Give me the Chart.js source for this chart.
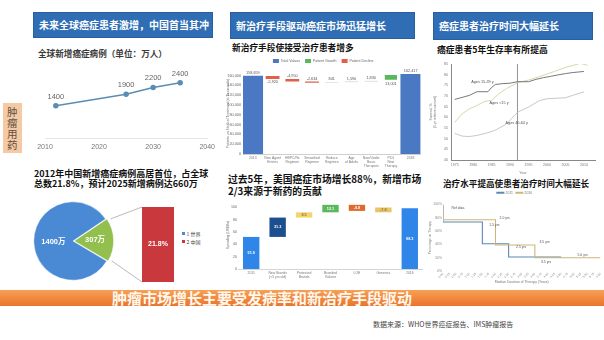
<!DOCTYPE html>
<html><head><meta charset="utf-8">
<script src="https://cdn.jsdelivr.net/npm/chart.js@4.4.1/dist/chart.umd.min.js"></script>
<style>
html,body{margin:0;padding:0;}
body{width:604px;height:340px;background:#fff;position:relative;overflow:hidden;font-family:'Noto Sans CJK SC',sans-serif;}
.t{position:absolute;white-space:nowrap;line-height:1;}
.hdr{position:absolute;background:#2f6eb5;border:1px solid #2a5f9e;box-sizing:border-box;color:#fff;font-weight:bold;font-size:10px;line-height:1;display:flex;align-items:center;padding-left:5px;white-space:nowrap;}
canvas{position:absolute;}
</style></head><body>

<div class="t" style="left:3px;top:103px;width:19px;height:50px;background:#f6c9a2;"></div>
<div class="t" style="left:7px;top:106px;font-size:10.5px;line-height:11px;color:#5e5147;white-space:normal;width:11px;">肿瘤用药</div>

<div class="hdr" style="left:33px;top:12px;width:180px;height:26px;">未来全球癌症患者激增，中国首当其冲</div>
<div class="hdr" style="left:230px;top:12px;width:185px;height:27px;">新治疗手段驱动癌症市场迅猛增长</div>
<div class="hdr" style="left:433px;top:12px;width:160px;height:28px;">癌症患者治疗时间大幅延长</div>

<div class="t" style="left:38px;top:48.5px;font-size:8.6px;font-weight:bold;color:#3a3a3a;">全球新增癌症病例（单位：万人）</div>
<div class="t" style="left:232px;top:43.5px;font-size:8.7px;font-weight:bold;color:#111;">新治疗手段使接受治疗患者增多</div>
<div class="t" style="left:437px;top:45.5px;font-size:8.8px;font-weight:bold;color:#111;">癌症患者5年生存率有所提高</div>

<div class="t" style="left:34px;top:168.5px;font-size:9px;font-weight:bold;color:#111;">2012年中国新增癌症病例高居首位，占全球</div>
<div class="t" style="left:34px;top:178.5px;font-size:9px;font-weight:bold;color:#111;">总数21.8%，预计2025新增病例达660万</div>
<div class="t" style="left:228px;top:175px;font-size:9.8px;font-weight:bold;color:#111;">过去5年，美国癌症市场增长88%，新增市场</div>
<div class="t" style="left:228px;top:187px;font-size:9.8px;font-weight:bold;color:#111;">2/3来源于新药的贡献</div>
<div class="t" style="left:443px;top:178.5px;font-size:8.6px;font-weight:bold;color:#111;">治疗水平提高使患者治疗时间大幅延长</div>

<div class="t" style="left:182px;top:232px;width:3px;height:3px;background:#4a89d4;"></div>
<div class="t" style="left:186.5px;top:231px;font-size:5px;color:#444;">1 世界</div>
<div class="t" style="left:182px;top:240px;width:3px;height:3px;background:#c9383c;"></div>
<div class="t" style="left:186.5px;top:239px;font-size:5px;color:#444;">2 中国</div>

<div class="t" style="left:0;top:290px;width:604px;height:16px;background:linear-gradient(to bottom,#f7a055,#ea742c);"></div>
<div class="t" style="left:0;top:290px;width:524px;height:16px;font-size:15px;font-weight:bold;color:#fff8ee;text-align:center;line-height:16px;">肿瘤市场增长主要受发病率和新治疗手段驱动</div>
<div class="t" style="left:373px;top:321px;font-size:7px;color:#444;">数据来源：WHO世界癌症报告、IMS肿瘤报告</div>

<canvas id="c1" width="190" height="95" style="left:30px;top:60px"></canvas>
<canvas id="cPie" width="84" height="84" style="left:31px;top:199px"></canvas>
<canvas id="cBar" width="32" height="75" style="left:142px;top:207px"></canvas>
<canvas id="cW1" width="195" height="115" style="left:226px;top:54px"></canvas>
<canvas id="cW2" width="197" height="88" style="left:226px;top:195px"></canvas>
<canvas id="cS" width="176" height="115" style="left:428px;top:60px"></canvas>
<canvas id="cK" width="176" height="96" style="left:428px;top:188px"></canvas>
<canvas id="ov" width="604" height="340" style="left:0;top:0;pointer-events:none"></canvas>

<script>
// ---------- DATA ----------
// Panel 1: global new cancer cases (万人)
const caseYears = [2012, 2025, 2030, 2035];
const caseValues = [1400, 1900, 2200, 2400];
const caseTicks = [2010, 2020, 2030, 2040];

// Pie: 2012 new cases (万)
const pieLabels = ['2中国', '1世界'];
const pieValues = [307, 1400];
const pieText = ['307万', '1400万'];
const chinaShare = [21.8];

// Waterfall 1: patients on treatment
const wf1Cats = [['2013'], ['New Agent', 'Entries'], ['HBPC/Rx', 'Regimen'], ['Smoothed', 'Regimen'], ['Reduce', 'Regimen'], ['Age', 'of Adults'], ['New/Under', 'Basic', 'Therapies'], ['PD1', 'New', 'Therapy'], ['2018']];
const wf1Start = 158659;
const wf1Deltas = [-5920, -4950, -2634, 841, 1590, 1830, 13001];
const wf1Ticks = [0, 20000, 40000, 60000, 80000, 100000, 120000, 140000, 160000];

// Waterfall 2: US oncology spending (US$Bn)
const wf2Cats = [['2011'], ['New Brands', '(<5 yrs old)'], ['Protected', 'Brands'], ['Branded', 'Volume'], ['LOE'], ['Generics'], ['2016']];
const wf2Low = [0, 51.9, 83.2, 91.7, 94.0, 91.7, 0];
const wf2High = [51.9, 83.2, 91.7, 103.8, 103.8, 99.5, 98.3];
const wf2Text = ['51.9', '31.3', '8.5', '12.1', '-9.8', '-7.8', '98.3'];

// Survival chart
const survYears15_39 = [1975, 1979, 1981, 1984, 1985, 1986, 1988, 1990, 1992, 1995, 1997, 1999, 2001, 2003, 2005, 2007, 2010];
const surv15_39 = [68.4, 70.3, 72.0, 72.0, 74.0, 75.4, 75.8, 76.0, 76.7, 76.7, 77.8, 78.6, 79.2, 79.9, 80.5, 81.0, 81.5];
const survYearsU15 = [1975, 1977, 1979, 1981, 1983, 1985, 1987, 1989, 1992, 1995, 1998, 2002, 2005, 2009, 2011];
const survU15 = [57.6, 61.6, 64.0, 65.5, 67.4, 67.9, 71.1, 73.5, 76.2, 77.5, 79.1, 81.5, 83.4, 85.3, 84.4];
const survYears40_64 = [1975, 1977, 1979, 1981, 1984, 1986, 1989, 1992, 1995, 1998, 2000, 2003, 2005, 2007, 2010];
const surv40_64 = [52.5, 51.2, 51.0, 51.5, 52.8, 54.0, 56.8, 62.4, 64.8, 67.9, 68.7, 69.0, 69.2, 70.3, 71.9];
const survMarkYear = 1992;
const survTicksX = [1975, 1980, 1985, 1990, 1995, 2000, 2005, 2010];

// Step chart: percentage remaining on therapy vs years
const stepXBlue = [0, 1.5, 2.5, 3.5, 4.5];
const stepYBlue = [100, 73.6, 41, 21, 21];
const stepXTan = [0, 2.0, 3.5, 5.0, 6.0];
const stepYTan = [100, 77, 39, 20, 20];
const stepNotes = [[0.57, 94, 'Ref data'], [1.96, 68.7, '1.5 yrs'], [2.35, 79.6, '2.0 yrs'], [2.98, 36, '2.5 yrs'], [3.87, 43.7, '3.5 yrs'], [3.93, 13.9, '3.5 yrs'], [5.32, 23.9, '5.0 yrs']];

// ---------- SETUP ----------
Chart.defaults.font.family = "'Liberation Sans','Noto Sans CJK SC',sans-serif";
Chart.defaults.animation = false;
Chart.defaults.responsive = false;
Chart.defaults.plugins.tooltip.enabled = false;
const fmt = v => Math.round(v).toLocaleString('en-US');
const fixW = w => ax => { ax.width = w; };
const fixH = h => ax => { ax.height = h; };
const noGrid = { display: false, drawTicks: false };

// ---------- Chart 1: line ----------
const c1 = new Chart(document.getElementById('c1'), {
  type: 'line',
  data: { datasets: [{ data: caseYears.map((y, i) => ({ x: y, y: caseValues[i] })), borderColor: '#5b8cb4', backgroundColor: '#5b8cb4', borderWidth: 1.5, pointRadius: 2, tension: 0 }] },
  options: {
    layout: { padding: { left: 15, right: 10, top: 9, bottom: 0 } },
    plugins: { legend: { display: false } },
    scales: {
      x: { type: 'linear', min: 2010, max: 2040, afterBuildTicks: ax => { ax.ticks = caseTicks.map(v => ({ value: v })); }, afterFit: fixH(17),
        ticks: { font: { size: 7 }, color: '#777', padding: 5, callback: v => String(v) }, grid: noGrid, border: { display: true, color: '#e6e6e6' } },
      y: { display: false, min: 0, max: 3000 }
    }
  },
  plugins: [{ id: 'lbl1', afterDatasetsDraw(ch) {
    const ctx = ch.ctx; ctx.save(); ctx.font = "7.5px 'Liberation Sans'"; ctx.fillStyle = '#666'; ctx.textAlign = 'center'; ctx.textBaseline = 'middle';
    ch.getDatasetMeta(0).data.forEach((p, i) => ctx.fillText(String(caseValues[i]), p.x, p.y - 9));
    ctx.restore(); } }]
});

// ---------- Pie ----------
const pie = new Chart(document.getElementById('cPie'), {
  type: 'pie',
  data: { labels: pieLabels, datasets: [{ data: pieValues, backgroundColor: ['#92bf4e', '#4a89d4'], borderColor: '#ffffff', borderWidth: 0.5, offset: [5, 0] }] },
  options: { rotation: 56, layout: { padding: 0 }, plugins: { legend: { display: false } } },
  plugins: [{ id: 'pl', afterDatasetsDraw(ch) {
    const ctx = ch.ctx; ctx.save(); ctx.font = "bold 7.5px 'Liberation Sans','Noto Sans CJK SC'"; ctx.fillStyle = '#fff'; ctx.textAlign = 'center'; ctx.textBaseline = 'middle';
    ch.getDatasetMeta(0).data.forEach((a, i) => { const p = a.tooltipPosition(); ctx.fillText(pieText[i], p.x, p.y); });
    ctx.restore(); } }]
});

// ---------- Bar of pie ----------
const bar = new Chart(document.getElementById('cBar'), {
  type: 'bar',
  data: { labels: ['2中国'], datasets: [{ data: chinaShare, backgroundColor: '#c9383c', barPercentage: 1, categoryPercentage: 1 }] },
  options: { layout: { padding: 0 }, plugins: { legend: { display: false } },
    scales: { x: { display: false }, y: { display: false, min: 0, max: chinaShare[0] } } },
  plugins: [{ id: 'bl', afterDatasetsDraw(ch) {
    const ctx = ch.ctx; ctx.save(); ctx.font = "bold 7px 'Liberation Sans'"; ctx.fillStyle = '#fff'; ctx.textAlign = 'center'; ctx.textBaseline = 'middle';
    const e = ch.getDatasetMeta(0).data[0]; ctx.fillText(chinaShare[0] + '%', e.x, (e.y + e.base) / 2); ctx.restore(); } }]
});

// ---------- Waterfall 1 ----------
const wf1Total = [], wf1Up = [], wf1Down = [], wf1Lbl = [];
let run = wf1Start;
wf1Total.push([0, wf1Start]); wf1Up.push(null); wf1Down.push(null); wf1Lbl.push(fmt(wf1Start));
wf1Deltas.forEach(d => { const n = run + d; if (d >= 0) { wf1Up.push([run, n]); wf1Down.push(null); } else { wf1Down.push([n, run]); wf1Up.push(null); } wf1Total.push(null); wf1Lbl.push(fmt(d)); run = n; });
wf1Total.push([0, run]); wf1Up.push(null); wf1Down.push(null); wf1Lbl.push(fmt(run));

const w1 = new Chart(document.getElementById('cW1'), {
  type: 'bar',
  data: { labels: wf1Cats, datasets: [
    { label: 'Total Values', data: wf1Total, backgroundColor: '#4a78c2', grouped: false, barPercentage: 1.0, categoryPercentage: 1.0 },
    { label: 'Patient Growth', data: wf1Up, backgroundColor: '#58b85a', grouped: false, barPercentage: 0.7, categoryPercentage: 1.0,
      borderWidth: 0.8, borderSkipped: false, borderColor: c => { const r = c.raw; return r && Math.abs(r[1] - r[0]) < 5000 ? '#9a9a9a' : 'rgba(0,0,0,0)'; } },
    { label: 'Patient Decline', data: wf1Down, backgroundColor: '#e0604a', grouped: false, barPercentage: 0.7, categoryPercentage: 1.0 }
  ] },
  options: {
    layout: { padding: { left: 0, right: 0.5, top: 0, bottom: 0 } },
    plugins: { legend: { display: true, position: 'top', labels: { boxWidth: 6, boxHeight: 4, padding: 5, font: { size: 3.6 }, color: '#666' } } },
    scales: {
      x: { afterFit: fixH(15), ticks: { font: { size: 3.4 }, color: '#777', autoSkip: false, maxRotation: 0, padding: 2 }, grid: noGrid, border: { display: true, color: '#cfcfcf' } },
      y: { min: 0, max: 165000, afterFit: fixW(17), afterBuildTicks: ax => { ax.ticks = wf1Ticks.map(v => ({ value: v })); },
        ticks: { font: { size: 3.8 }, color: '#666', callback: v => fmt(v), padding: 2 }, grid: noGrid, border: { display: false },
        title: { display: true, text: 'Patients on Medical Treatment (in Thousands)', font: { size: 3.4 }, color: '#777', padding: 0 } }
    }
  },
  plugins: [{ id: 'wl1', afterDatasetsDraw(ch) {
    const ctx = ch.ctx; ctx.save(); ctx.font = "3.8px 'Liberation Sans'"; ctx.fillStyle = '#555'; ctx.textAlign = 'center'; ctx.textBaseline = 'middle';
    ch.data.datasets.forEach((ds, di) => { ch.getDatasetMeta(di).data.forEach((e, i) => {
      const r = ds.data[i]; if (!r) return; const top = Math.min(e.y, e.base), bot = Math.max(e.y, e.base);
      const small = Math.abs(r[1] - r[0]) < 5000;
      const y = di === 0 || small ? top - 3 : bot + 3; ctx.fillText(wf1Lbl[i], e.x, y); }); });
    ctx.restore(); } }]
});

// ---------- Waterfall 2 ----------
const w2 = new Chart(document.getElementById('cW2'), {
  type: 'bar',
  data: { labels: wf2Cats, datasets: [{ data: wf2Low.map((l, i) => [l, wf2High[i]]),
    backgroundColor: ['#2f86e8', '#1c4f8f', '#f3d56f', '#5cb85c', '#df6a2c', '#e9c466', '#2f86e8'], barPercentage: 0.62, categoryPercentage: 1.0 }] },
  options: {
    layout: { padding: { left: 0, right: 0, top: 6, bottom: 0 } },
    plugins: { legend: { display: false } },
    scales: {
      x: { afterFit: fixH(14), ticks: { font: { size: 3.4 }, color: '#777', autoSkip: false, maxRotation: 0, padding: 2 }, grid: noGrid, border: { display: true, color: '#d5d5d5' } },
      y: { min: 0, max: 110, afterFit: fixW(12), ticks: { stepSize: 10, font: { size: 3.6 }, color: '#666', padding: 1 }, grid: noGrid, border: { display: false },
        title: { display: true, text: 'Spending (US$Bn)', font: { size: 3.4 }, color: '#777', padding: 0 } }
    }
  },
  plugins: [{ id: 'wl2', afterDatasetsDraw(ch) {
    const ctx = ch.ctx; ctx.save(); ctx.font = "bold 3.8px 'Liberation Sans'"; ctx.textAlign = 'center'; ctx.textBaseline = 'middle';
    ch.getDatasetMeta(0).data.forEach((e, i) => { ctx.fillStyle = (i === 2 || i === 5) ? '#8a7a40' : '#fff'; ctx.fillText(wf2Text[i], e.x, (e.y + e.base) / 2); });
    ctx.restore(); } }]
});

// ---------- Survival ----------
const survNotes = [[1982.5, 76.7, 'Ages 15-39 y'], [1987, 66.8, 'Ages <15 y'], [1991.8, 57.2, 'Ages 40-64 y']];
const sv = new Chart(document.getElementById('cS'), {
  type: 'line',
  data: { datasets: [
    { data: survYears15_39.map((x, i) => ({ x, y: surv15_39[i] })), borderColor: '#6a6a6a', borderWidth: 0.9, pointRadius: 0, tension: 0 },
    { data: survYearsU15.map((x, i) => ({ x, y: survU15[i] })), borderColor: '#d6d0a6', borderWidth: 0.9, pointRadius: 0, tension: 0 },
    { data: survYears40_64.map((x, i) => ({ x, y: surv40_64[i] })), borderColor: '#c2c2bb', borderWidth: 0.9, pointRadius: 0, tension: 0 },
    { data: [{ x: survMarkYear, y: 40 }, { x: survMarkYear, y: 85 }], borderColor: '#666', borderWidth: 0.7, pointRadius: 0 }
  ] },
  options: {
    layout: { padding: { left: 0, right: 9, top: 4, bottom: 0 } },
    plugins: { legend: { display: false } },
    scales: {
      x: { type: 'linear', min: 1974, max: 2013, afterFit: fixH(15), afterBuildTicks: ax => { ax.ticks = survTicksX.map(v => ({ value: v })); },
        ticks: { font: { size: 3.6 }, color: '#777', callback: v => String(v), padding: 1 }, grid: { display: false, drawTicks: true, tickLength: 2 }, border: { display: true, color: '#888' },
        title: { display: true, text: 'Year', font: { size: 3.6 }, color: '#777', padding: 0 } },
      y: { min: 40, max: 85, afterFit: fixW(23), ticks: { stepSize: 5, font: { size: 3.6 }, color: '#777', padding: 1 }, grid: { display: false, drawTicks: true, tickLength: 2 }, border: { display: true, color: '#888' },
        title: { display: true, text: ['Survival, %', '(5-yr relative survival)'], font: { size: 3.4 }, color: '#777', padding: 1 } }
    }
  },
  plugins: [{ id: 'sl', afterDatasetsDraw(ch) {
    const ctx = ch.ctx, xs = ch.scales.x, ys = ch.scales.y; ctx.save(); ctx.font = "3.8px 'Liberation Sans'"; ctx.fillStyle = '#555'; ctx.textAlign = 'center'; ctx.textBaseline = 'middle';
    survNotes.forEach(n => ctx.fillText(n[2], xs.getPixelForValue(n[0]), ys.getPixelForValue(n[1]))); ctx.restore(); } }]
});

// ---------- Step chart ----------
const stepTicks = [];
for (let i = 0; i <= 24; i++) stepTicks.push(i * 0.25);
const sk = new Chart(document.getElementById('cK'), {
  type: 'line',
  data: { datasets: [
    { label: '2011', data: stepXBlue.map((x, i) => ({ x, y: stepYBlue[i] })), borderColor: '#5d88b6', borderWidth: 1.1, pointRadius: 0, stepped: 'after', order: 1 },
    { label: '2016', data: stepXTan.map((x, i) => ({ x, y: stepYTan[i] })), borderColor: '#cdb677', borderWidth: 1.1, pointRadius: 0, stepped: 'after', order: 0 }
  ] },
  options: {
    layout: { padding: { left: 0, right: 3, top: 0, bottom: 0 } },
    plugins: { legend: { display: true, labels: { boxWidth: 7, boxHeight: 0.8, padding: 3, font: { size: 3.4 }, color: '#777', sort: (a, b) => a.datasetIndex - b.datasetIndex } } },
    scales: {
      x: { type: 'linear', min: 0, max: 6, afterFit: fixH(13), afterBuildTicks: ax => { ax.ticks = stepTicks.map(v => ({ value: v })); },
        ticks: { font: { size: 3 }, color: '#888', minRotation: 45, maxRotation: 45, autoSkip: false, padding: 1, callback: v => v.toFixed(2) }, grid: noGrid, border: { display: false },
        title: { display: true, text: 'Median Duration of Therapy (Years)', font: { size: 3.4 }, color: '#777', padding: 0 } },
      y: { min: 0, max: 100, afterFit: fixW(15), ticks: { stepSize: 10, font: { size: 3.4 }, color: '#888', padding: 1, callback: v => v + '%' }, grid: noGrid, border: { display: false },
        title: { display: true, text: 'Percentage on Therapy', font: { size: 3.2 }, color: '#777', padding: 0 } }
    }
  },
  plugins: [{ id: 'kl', afterDatasetsDraw(ch) {
    const ctx = ch.ctx, xs = ch.scales.x, ys = ch.scales.y; ctx.save(); ctx.font = "3.4px 'Liberation Sans'"; ctx.fillStyle = '#555'; ctx.textAlign = 'center'; ctx.textBaseline = 'middle';
    stepNotes.forEach(n => ctx.fillText(n[2], xs.getPixelForValue(n[0]), ys.getPixelForValue(n[1]))); ctx.restore(); } }]
});

// ---------- Connector lines pie -> bar ----------
(function () {
  const ov = document.getElementById('ov').getContext('2d');
  const pc = document.getElementById('cPie'), bc = document.getElementById('cBar');
  const a = pie.getDatasetMeta(0).data[0];
  const ox = parseFloat(pc.style.left), oy = parseFloat(pc.style.top);
  const mid = (a.startAngle + a.endAngle) / 2, off = 5;
  const cx = a.x + Math.cos(mid) * off + ox, cy = a.y + Math.sin(mid) * off + oy;
  const p1 = [cx + a.outerRadius * Math.cos(a.startAngle), cy + a.outerRadius * Math.sin(a.startAngle)];
  const p2 = [cx + a.outerRadius * Math.cos(a.endAngle), cy + a.outerRadius * Math.sin(a.endAngle)];
  const e = bar.getDatasetMeta(0).data[0];
  const bx = parseFloat(bc.style.left) + e.x - e.width / 2, by = parseFloat(bc.style.top);
  const top = by + Math.min(e.y, e.base), bot = by + Math.max(e.y, e.base);
  ov.strokeStyle = '#a8a8a8'; ov.lineWidth = 0.8;
  ov.beginPath(); ov.moveTo(p1[0], p1[1]); ov.lineTo(bx, top); ov.moveTo(p2[0], p2[1]); ov.lineTo(bx, bot); ov.stroke();
})();
</script>
</body></html>
